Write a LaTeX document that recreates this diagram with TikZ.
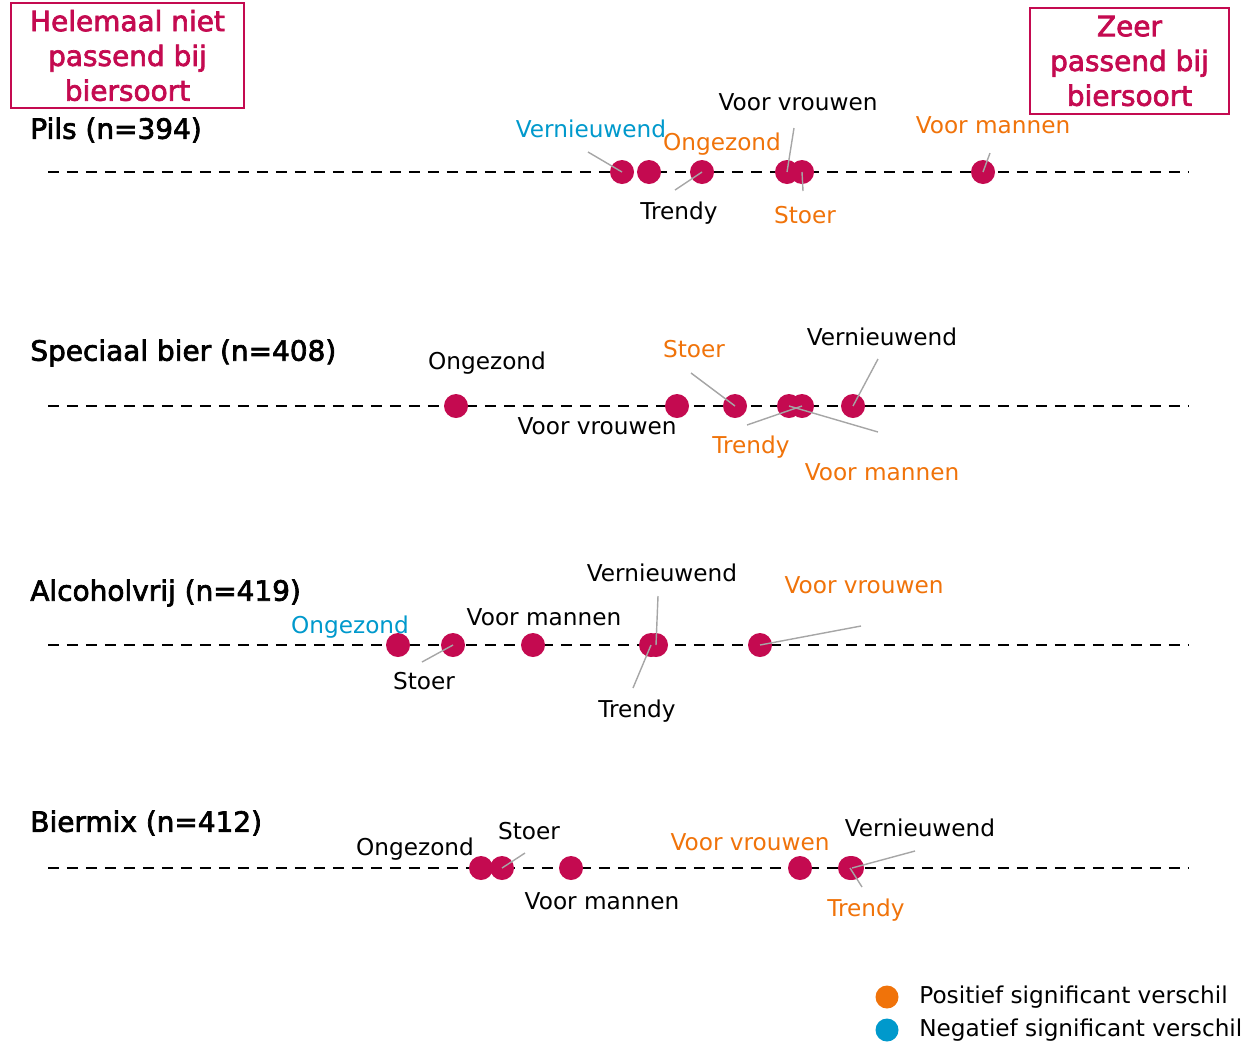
\documentclass[tikz,border=0pt]{standalone}
\usepackage{fontspec}
\setmainfont{DejaVu Sans}
\newfontfamily\semibf[FakeBold=2.5]{DejaVu Sans}
\definecolor{berry}{RGB}{196,10,80}
\definecolor{orng}{RGB}{240,115,10}
\definecolor{blu}{RGB}{0,153,204}
\begin{document}
\begin{tikzpicture}[x=0.02cm,y=-0.02cm,
  dot/.style={circle,fill=berry,inner sep=0pt,minimum size=0.48cm},
  lab/.style={font=\fontsize{13.2}{15}\selectfont,inner sep=0pt},
  poslab/.style={lab,text=orng},
  neglab/.style={lab,text=blu},
  lead/.style={draw=black!35,line width=0.8pt},
  axis/.style={dash pattern=on 0.22cm off 0.16cm,line width=1.6pt},
  ttl/.style={font=\semibf\fontsize{15.9}{18}\selectfont,anchor=west,inner sep=0pt},
  endbox/.style={draw=berry,line width=0.8pt,text=berry,align=center,inner sep=0pt,
    font=\semibf\fontsize{15.9}{19.8}\selectfont}]
\useasboundingbox (0,0) rectangle (1250,1042);
% end labels of the scale
\node[endbox,minimum width=4.66cm,minimum height=2.1cm] (boxLow) at (127.5,55.5) {Helemaal niet\\passend bij\\biersoort};
\node[endbox,minimum width=3.98cm,minimum height=2.12cm] (boxHigh) at (1129.5,61) {Zeer\\passend bij\\biersoort};
% rows
\node[ttl] (tPils) at (30,130) {Pils (n=394)};
\node[ttl] (tSpec) at (30,353) {Speciaal bier (n=408)};
\node[ttl] (tAlc) at (30,593) {Alcoholvrij (n=419)};
\node[ttl] (tMix) at (30,823) {Biermix (n=412)};
\foreach \r/\y in {pils/172,spec/406,alc/645,mix/868}{
  \coordinate (\r A) at (48,\y);
  \coordinate (\r B) at (1188,\y);
  \draw[axis] (\r A) -- (\r B);
}
% dots
\foreach \n/\x in {pilsVer/622,pilsOng/649,pilsTre/702,pilsVro/787,pilsSto/802,pilsMan/983}
\node[dot] (\n) at (\x,172) {};
\foreach \n/\x in {specOng/456,specVro/677,specSto/735,specMan/789,specTre/802,specVer/853}
\node[dot] (\n) at (\x,406) {};
\foreach \n/\x in {alcOng/398,alcSto/453,alcMan/533,alcTre/651,alcVer/656,alcVro/760}
\node[dot] (\n) at (\x,645) {};
\foreach \n/\x in {mixOng/481,mixSto/502,mixMan/571,mixVro/800,mixTre/850,mixVer/852}
\node[dot] (\n) at (\x,868) {};
% labels
\node[neglab] (tPilsVer) at (591,129) {Vernieuwend};
\node[poslab] (tPilsOng) at (722,144) {Ongezond};
\node[lab] (tPilsTre) at (679,213) {Trendy};
\node[lab] (tPilsVro) at (798,102) {Voor vrouwen};
\node[poslab] (tPilsSto) at (805,215) {Stoer};
\node[poslab] (tPilsMan) at (993,125) {Voor mannen};
\node[lab] (tSpecOng) at (487,363) {Ongezond};
\node[lab] (tSpecVro) at (597,426) {Voor vrouwen};
\node[poslab] (tSpecSto) at (694,349) {Stoer};
\node[lab] (tSpecVer) at (882,337) {Vernieuwend};
\node[poslab] (tSpecTre) at (751,447) {Trendy};
\node[poslab] (tSpecMan) at (882,472) {Voor mannen};
\node[neglab] (tAlcOng) at (350,627) {Ongezond};
\node[lab] (tAlcSto) at (424,681) {Stoer};
\node[lab] (tAlcMan) at (544,617) {Voor mannen};
\node[lab] (tAlcVer) at (662,573) {Vernieuwend};
\node[lab] (tAlcTre) at (637,711) {Trendy};
\node[poslab] (tAlcVro) at (864,585) {Voor vrouwen};
\node[lab] (tMixOng) at (415,849) {Ongezond};
\node[lab] (tMixSto) at (529,831) {Stoer};
\node[lab] (tMixMan) at (602,901) {Voor mannen};
\node[poslab] (tMixVro) at (750,842) {Voor vrouwen};
\node[lab] (tMixVer) at (920,828) {Vernieuwend};
\node[poslab] (tMixTre) at (866,910) {Trendy};
% leader lines
\coordinate (lPilsVer) at (588,152);
\coordinate (lPilsTre) at (675,190);
\coordinate (lPilsVro) at (794,128);
\coordinate (lPilsSto) at (803,191);
\coordinate (lPilsMan) at (990,153);
\coordinate (lSpecSto) at (691,373);
\coordinate (lSpecVer) at (878,359);
\coordinate (lSpecTre) at (747,425);
\coordinate (lSpecMan) at (878,432);
\coordinate (lAlcSto) at (422,662);
\coordinate (lAlcVer) at (658,596);
\coordinate (lAlcTre) at (633,688);
\coordinate (lAlcVro) at (861,626);
\coordinate (lMixSto) at (525,853);
\coordinate (lMixVer) at (915,851);
\coordinate (lMixTre) at (862,887);
\foreach \from/\to in {lPilsVer/pilsVer,lPilsTre/pilsTre,lPilsVro/pilsVro,lPilsSto/pilsSto,lPilsMan/pilsMan,
  lSpecSto/specSto,lSpecVer/specVer,lSpecTre/specTre,lSpecMan/specMan,
  lAlcSto/alcSto,lAlcVer/alcVer,lAlcTre/alcTre,lAlcVro/alcVro,
  lMixSto/mixSto,lMixVer/mixVer,lMixTre/mixTre}
\draw[lead] (\from) -- (\to.center);
% legend
\node[circle,fill=orng,inner sep=0pt,minimum size=0.46cm] (legPos) at (887,997) {};
\node[circle,fill=blu,inner sep=0pt,minimum size=0.46cm] (legNeg) at (887,1030) {};
\node[lab,anchor=west] (tLegPos) at (919,997) {Positief significant verschil};
\node[lab,anchor=west] (tLegNeg) at (919,1030) {Negatief significant verschil};
\end{tikzpicture}
\end{document}
